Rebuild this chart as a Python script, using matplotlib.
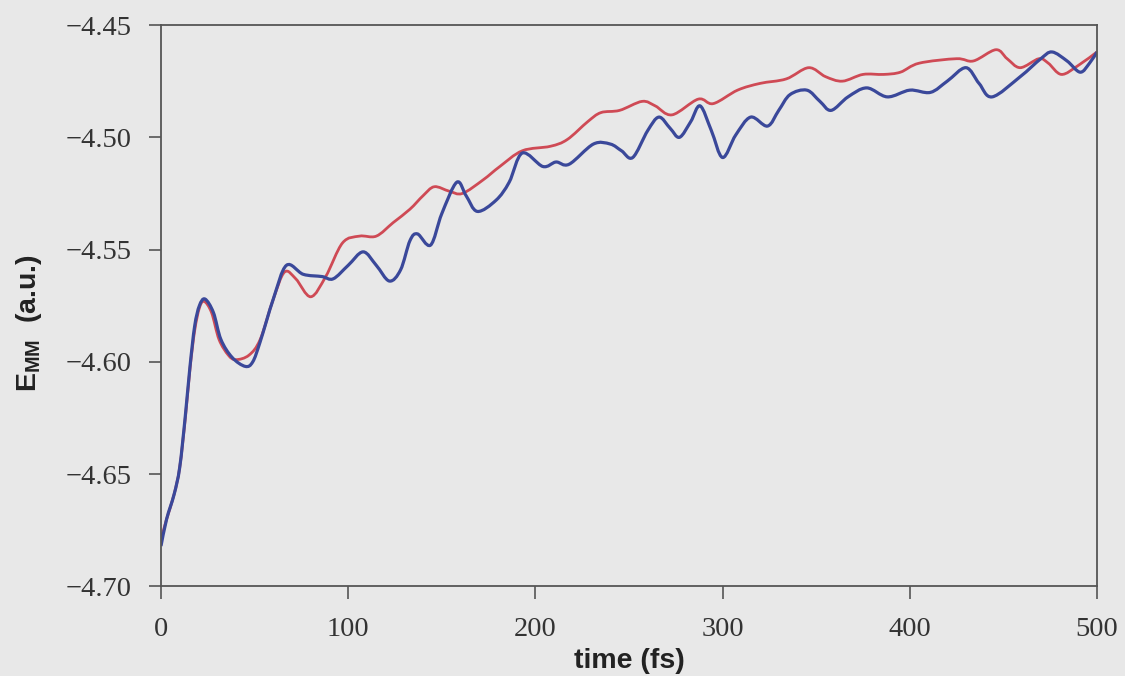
import matplotlib
matplotlib.use("Agg")
import matplotlib.pyplot as plt
from matplotlib.path import Path
from matplotlib.patches import PathPatch

# energy traces vs simulation time
t_red = [0, 3, 7, 10, 13, 15.5, 18, 20.5, 23, 27, 31, 36, 40, 47, 53, 60, 66,
         72, 80, 88, 97, 106, 115, 124, 133, 140, 146, 154, 161, 172, 181, 193,
         208, 217, 228, 235, 245, 257, 264, 273, 287, 295, 308, 320, 334, 346,
         355, 364, 375, 386, 395, 405, 425, 434, 446, 452, 459, 469, 474, 481,
         490, 500]
e_red = [-4.679, -4.670, -4.659, -4.647, -4.625, -4.603, -4.586, -4.576, -4.573,
         -4.578, -4.590, -4.597, -4.599, -4.597, -4.590, -4.572, -4.560, -4.563,
         -4.571, -4.562, -4.547, -4.544, -4.544, -4.538, -4.532, -4.526, -4.522,
         -4.524, -4.525, -4.519, -4.513, -4.506, -4.504, -4.501, -4.493, -4.489,
         -4.488, -4.484, -4.486, -4.490, -4.483, -4.485, -4.479, -4.476, -4.474,
         -4.469, -4.473, -4.475, -4.472, -4.472, -4.471, -4.467, -4.465, -4.466,
         -4.461, -4.465, -4.469, -4.465, -4.467, -4.472, -4.468, -4.462]

t_blue = [0, 3, 7, 10, 13, 15.5, 18, 20.5, 23.5, 28, 32, 38, 45, 49, 53, 60, 67,
          76, 86, 92, 100, 108, 115, 122, 128, 133, 137, 144, 150, 158, 163, 169,
          179, 186, 193, 204, 211, 218, 231, 240, 246, 252, 260, 266, 272, 277,
          283, 288, 294, 300, 307, 315, 324, 330, 336, 345, 352, 358, 367, 377,
          388, 400, 411, 420, 430, 437, 444, 459, 470, 476, 484, 491, 496, 500]
e_blue = [-4.682, -4.670, -4.659, -4.647, -4.624, -4.602, -4.584, -4.575, -4.572,
          -4.578, -4.590, -4.598, -4.602, -4.600, -4.591, -4.572, -4.557, -4.561,
          -4.562, -4.563, -4.557, -4.551, -4.557, -4.564, -4.559, -4.546, -4.543,
          -4.548, -4.534, -4.520, -4.526, -4.533, -4.528, -4.520, -4.507, -4.513,
          -4.511, -4.512, -4.503, -4.503, -4.506, -4.509, -4.497, -4.491, -4.496,
          -4.500, -4.493, -4.486, -4.497, -4.509, -4.499, -4.491, -4.495, -4.488,
          -4.481, -4.479, -4.484, -4.488, -4.482, -4.478, -4.482, -4.479, -4.480,
          -4.475, -4.469, -4.476, -4.482, -4.473, -4.465, -4.462, -4.466, -4.471,
          -4.467, -4.462]

x_ticks = [0, 100, 200, 300, 400, 500]
y_ticks = [-4.70, -4.65, -4.60, -4.55, -4.50, -4.45]


def smooth_path(xs, ys):
    # Catmull-Rom through the samples, written as cubic Bezier segments
    pts = list(zip(xs, ys))
    n = len(pts)
    verts = [pts[0]]
    codes = [Path.MOVETO]
    for i in range(n - 1):
        p0 = pts[max(i - 1, 0)]
        p1 = pts[i]
        p2 = pts[i + 1]
        p3 = pts[min(i + 2, n - 1)]
        c1 = (p1[0] + (p2[0] - p0[0]) / 6, p1[1] + (p2[1] - p0[1]) / 6)
        c2 = (p2[0] - (p3[0] - p1[0]) / 6, p2[1] - (p3[1] - p1[1]) / 6)
        verts += [c1, c2, p2]
        codes += [Path.CURVE4] * 3
    return Path(verts, codes)


plt.rcParams['mathtext.fontset'] = 'custom'
plt.rcParams['mathtext.rm'] = 'Liberation Sans'
plt.rcParams['mathtext.bf'] = 'Liberation Sans:bold'

bg = '#e8e8e8'
fig = plt.figure(figsize=(11.25, 6.76), dpi=100, facecolor=bg)
ax = fig.add_axes([0.1431, 0.1324, 0.832, 0.8306], facecolor=bg)

ax.add_patch(PathPatch(smooth_path(t_red, e_red), fill=False,
                       edgecolor='#cf4a55', lw=2.0, joinstyle='round'))
ax.add_patch(PathPatch(smooth_path(t_blue, e_blue), fill=False,
                       edgecolor='#3a489a', lw=2.3, joinstyle='round'))

ax.set_xlim(0, 500)
ax.set_ylim(-4.70, -4.45)
ax.set_xticks(x_ticks)
ax.set_yticks(y_ticks)
ax.set_xticklabels([str(v) for v in x_ticks])
ax.set_yticklabels(['\u2212%.2f' % abs(v) for v in y_ticks])

for lab in ax.get_xticklabels() + ax.get_yticklabels():
    lab.set_fontfamily('Liberation Serif')
    lab.set_fontsize(20.5)
    lab.set_color('#333333')

ax.tick_params(direction='out', length=9, width=1.2, color='#555555')
ax.tick_params(axis='x', pad=13)
ax.tick_params(axis='y', pad=12)
for s in ax.spines.values():
    s.set_color('#555555')
    s.set_linewidth(1.3)

ax.set_xlabel('time (fs)', family='Liberation Sans', fontweight='bold',
              fontsize=20.5, color='#222222', va='center')
ax.set_ylabel(r'$\mathbf{E_{MM}}$  (a.u.)', family='Liberation Sans',
              fontweight='bold', fontsize=20.5, color='#222222', va='center')
ax.xaxis.set_label_coords(0.5, -0.133)
ax.yaxis.set_label_coords(-0.141, 0.47)

fig.savefig('out.png', dpi=100, facecolor=bg)
